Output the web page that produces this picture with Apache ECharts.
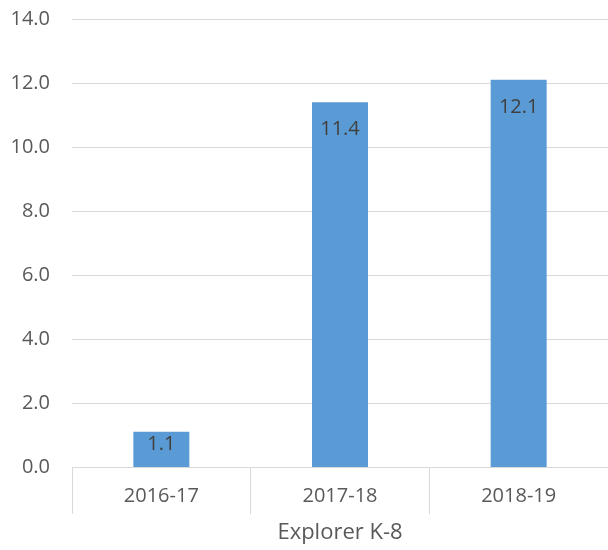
<!DOCTYPE html>
<html>
<head>
<meta charset="utf-8">
<script src="https://cdn.jsdelivr.net/npm/echarts@6/dist/echarts.min.js"></script>
<style>
  html, body { margin: 0; padding: 0; background: #fff; }
  #chart { width: 608px; height: 550px; }
</style>
</head>
<body>
<div id="chart"></div>
<script>
const years = ["2016-17", "2017-18", "2018-19"];
const values = [1.1, 11.4, 12.1];
const groupName = "Explorer K-8";

const font = "'Open Sans', 'Liberation Sans', sans-serif";

let chart = echarts.init(document.getElementById("chart"));

// short bars get their label closer to the top edge
let barData = values.map(v => ({
  value: v,
  label: { distance: v < 2 ? 2 : 17 }
}));

let option = {
  animation: false,
  grid: { left: 72, top: 19, width: 540, height: 448 },
  xAxis: {
    type: "category",
    data: years,
    name: groupName,
    nameLocation: "middle",
    nameGap: 55,
    nameTextStyle: { color: "#595959", fontSize: 22, fontFamily: font },
    axisLine: { lineStyle: { color: "#D9D9D9", width: 1 } },
    axisTick: { show: true, length: 47, lineStyle: { color: "#D9D9D9", width: 1 } },
    axisLabel: { color: "#595959", fontSize: 20, fontFamily: font, margin: 19 }
  },
  yAxis: {
    type: "value",
    min: 0,
    max: 14,
    interval: 2,
    axisLine: { show: false },
    axisTick: { show: false },
    splitLine: { lineStyle: { color: "#D9D9D9", width: 1 } },
    axisLabel: {
      color: "#595959",
      fontSize: 20,
      fontFamily: font,
      margin: 22,
      formatter: v => v.toFixed(1)
    }
  },
  series: [
    {
      type: "bar",
      data: barData,
      barWidth: 56,
      itemStyle: { color: "#5B9BD5" },
      label: {
        show: true,
        position: "insideTop",
        color: "#404040",
        fontSize: 20,
        fontFamily: font,
        formatter: p => p.value.toFixed(1)
      }
    }
  ]
};

chart.setOption(option);
</script>
</body>
</html>
